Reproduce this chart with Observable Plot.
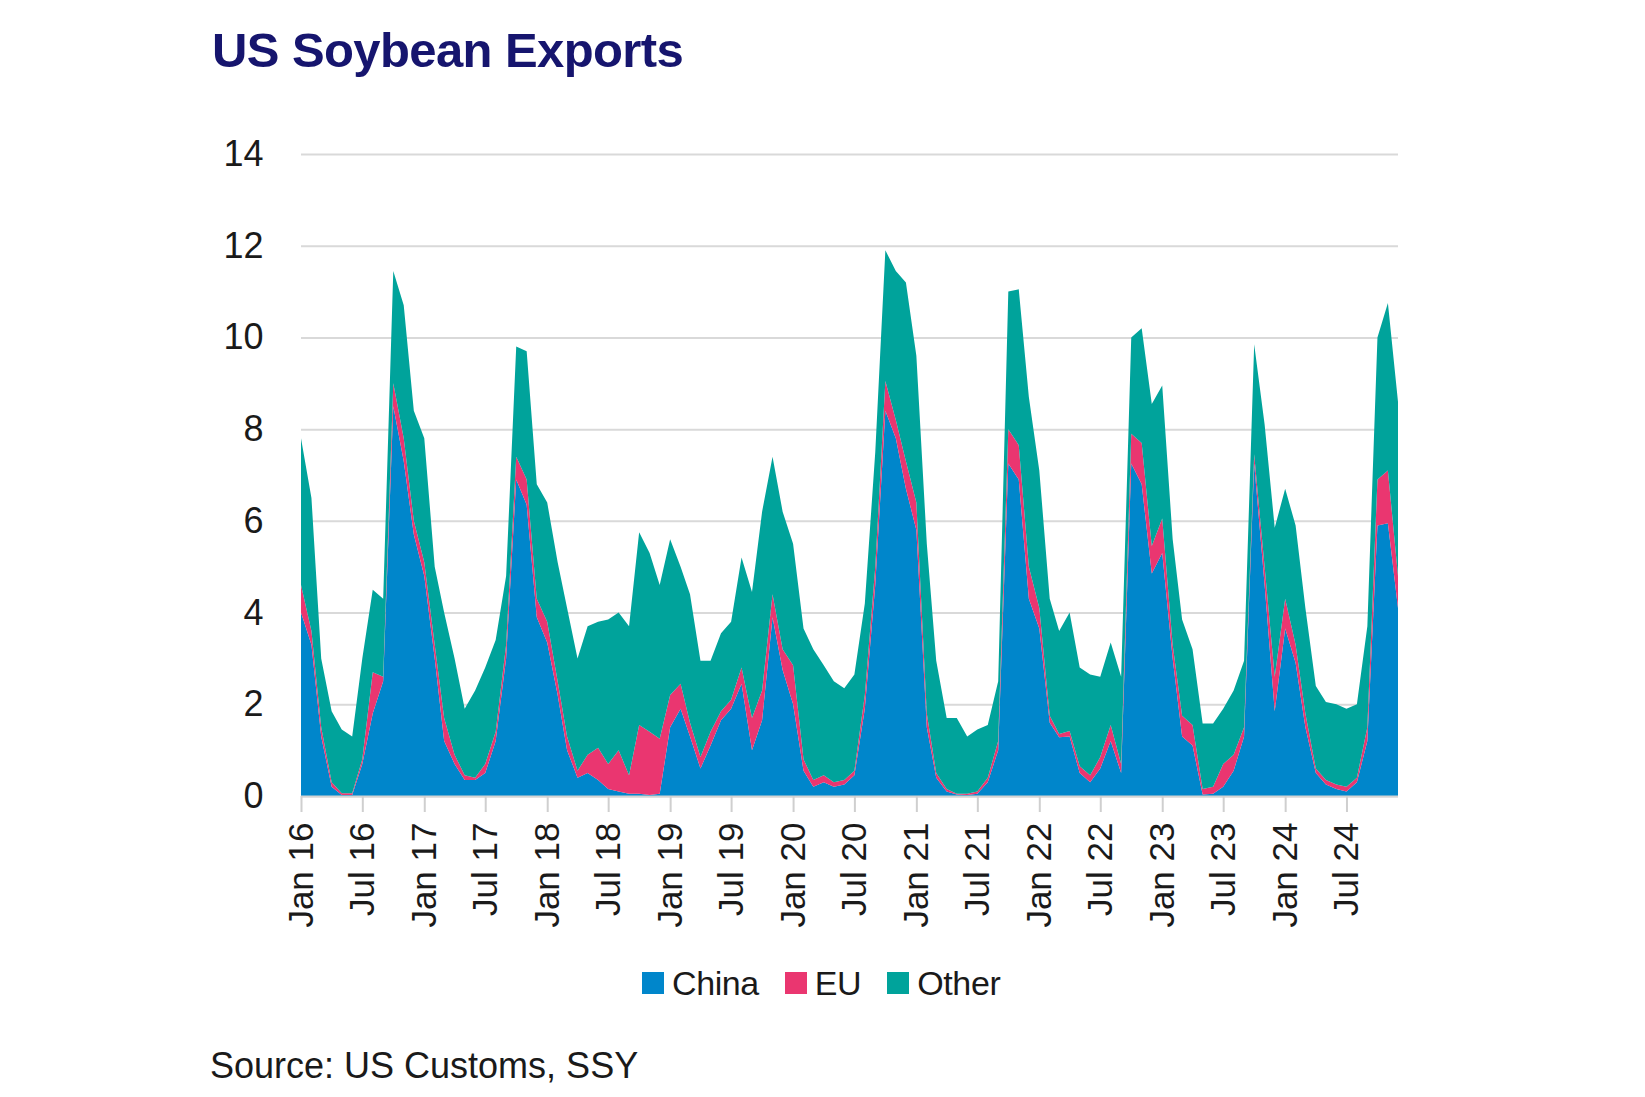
<!DOCTYPE html>
<html>
<head>
<meta charset="utf-8">
<script src="https://cdn.jsdelivr.net/npm/d3@7"></script>
<script src="https://cdn.jsdelivr.net/npm/@observablehq/plot@0.6"></script>
<style>
  html, body { margin: 0; padding: 0; background: #ffffff; width: 1645px; height: 1097px; overflow: hidden; }
  body { position: relative; font-family: "Liberation Sans", Arial, sans-serif; }
  #title { position: absolute; left: 212px; top: 26px; font-size: 49px; font-weight: bold; line-height: 1; letter-spacing: -0.6px; color: #16156e; white-space: nowrap; }
  #chart { position: absolute; left: 0; top: 110px; }
  #legend { position: absolute; left: 642px; top: 966px; height: 34px; display: flex; align-items: center; font-size: 34px; line-height: 34px; color: #1a1a1a; white-space: nowrap; letter-spacing: -0.4px; }
  #legend .item { display: flex; align-items: center; margin-right: 26px; }
  #legend .sw { width: 22px; height: 22px; margin-right: 8px; display: inline-block; }
  #source { position: absolute; left: 210px; top: 1048px; font-size: 36px; line-height: 1; color: #1a1a1a; white-space: nowrap; }
</style>
</head>
<body>
<div id="title">US Soybean Exports</div>
<div id="chart"></div>
<div id="legend"></div>
<div id="source">Source: US Customs, SSY</div>
<script>
// ---- data (million tonnes, monthly Jan 2016 – Dec 2024) ----
const series = ["China", "EU", "Other"];
const colors = ["#0086cb", "#ea3670", "#00a39b"];

const china = [
  4.0, 3.3, 1.3, 0.2, 0.02, 0.02, 0.7, 1.8, 2.5, 8.5, 7.3, 5.7,
  4.8, 3.0, 1.2, 0.7, 0.35, 0.35, 0.5, 1.2, 3.0, 6.9, 6.35, 3.9,
  3.35, 2.2, 1.0, 0.4, 0.5, 0.35, 0.15, 0.1, 0.05, 0.05, 0.02, 0.05,
  1.5, 1.9, 1.3, 0.6, 1.1, 1.65, 1.9, 2.45, 1.0, 1.65, 3.9, 2.75,
  2.0, 0.55, 0.2, 0.3, 0.2, 0.25, 0.45, 1.9, 4.6, 8.4, 7.8, 6.7,
  5.8, 1.5, 0.4, 0.1, 0.03, 0.02, 0.05, 0.3, 1.0, 7.25, 6.9, 4.3,
  3.65, 1.6, 1.28, 1.3, 0.5, 0.3, 0.6, 1.2, 0.5, 7.25, 6.8, 4.85,
  5.3, 3.0, 1.3, 1.1, 0.03, 0.05, 0.2, 0.55, 1.3, 7.25, 4.6, 1.85,
  3.65, 2.9, 1.5, 0.5, 0.25, 0.15, 0.1, 0.3, 1.2, 5.9, 5.95, 4.1
];
const eu = [
  0.6, 0.3, 0.2, 0.1, 0.04, 0.04, 0.1, 0.9, 0.1, 0.5, 0.5, 0.3,
  0.3, 0.3, 0.5, 0.2, 0.1, 0.05, 0.2, 0.2, 0.3, 0.5, 0.55, 0.4,
  0.45, 0.3, 0.3, 0.15, 0.4, 0.7, 0.55, 0.9, 0.4, 1.5, 1.38, 1.2,
  0.7, 0.55, 0.3, 0.25, 0.3, 0.2, 0.2, 0.35, 0.7, 0.65, 0.5, 0.45,
  0.85, 0.25, 0.15, 0.15, 0.1, 0.1, 0.1, 0.3, 0.4, 0.65, 0.4, 0.6,
  0.6, 0.3, 0.1, 0.05, 0.02, 0.03, 0.05, 0.1, 0.2, 0.75, 0.75, 0.7,
  0.45, 0.15, 0.07, 0.12, 0.15, 0.15, 0.25, 0.35, 0.2, 0.65, 0.9, 0.6,
  0.75, 0.3, 0.45, 0.45, 0.12, 0.15, 0.5, 0.35, 0.2, 0.2, 0.4, 0.75,
  0.65, 0.4, 0.3, 0.1, 0.1, 0.1, 0.1, 0.1, 0.3, 1.0, 1.15, 0.7
];
const other = [
  3.2, 2.9, 1.5, 1.55, 1.39, 1.24, 2.2, 1.8, 1.7, 2.45, 2.9, 2.4,
  2.7, 1.7, 2.3, 2.1, 1.45, 1.9, 2.1, 2.0, 1.5, 2.4, 2.8, 2.5,
  2.6, 2.6, 2.8, 2.45, 2.8, 2.75, 3.15, 3.0, 3.25, 4.2, 3.9, 3.35,
  3.4, 2.55, 2.8, 2.1, 1.55, 1.7, 1.7, 2.4, 2.75, 3.9, 3.0, 3.0,
  2.65, 2.85, 2.85, 2.4, 2.2, 2.0, 2.1, 2.0, 2.5, 2.85, 3.25, 3.9,
  3.2, 3.7, 2.45, 1.55, 1.65, 1.25, 1.35, 1.15, 1.3, 3.0, 3.4, 3.7,
  3.0, 2.55, 2.25, 2.58, 2.15, 2.2, 1.75, 1.8, 1.9, 2.1, 2.5, 3.1,
  2.9, 2.3, 2.1, 1.65, 1.43, 1.38, 1.2, 1.4, 1.45, 2.4, 3.1, 3.25,
  2.4, 2.6, 2.3, 1.8, 1.7, 1.75, 1.7, 1.6, 2.2, 3.1, 3.65, 3.8
];

const yTicks = [0, 2, 4, 6, 8, 10, 12, 14];
const tickLabels = [
  "Jan 16", "Jul 16", "Jan 17", "Jul 17", "Jan 18", "Jul 18",
  "Jan 19", "Jul 19", "Jan 20", "Jul 20", "Jan 21", "Jul 21",
  "Jan 22", "Jul 22", "Jan 23", "Jul 23", "Jan 24", "Jul 24"
];

// ---- build table ----
const months = d3.utcMonth.range(new Date(Date.UTC(2016, 0, 1)), new Date(Date.UTC(2025, 0, 1)));
const values = {China: china, EU: eu, Other: other};
const table = [];
months.forEach((m, i) => {
  series.forEach(s => table.push({date: m, series: s, value: values[s][i]}));
});
const xTicks = months.filter((m, i) => i % 6 === 0);
const labelOf = new Map(xTicks.map((d, i) => [+d, tickLabels[i]]));

const chart = Plot.plot({
  width: 1645,
  height: 830,
  marginLeft: 301,
  marginRight: 247,
  marginTop: 44,
  marginBottom: 144,
  style: {fontFamily: "'Liberation Sans', Arial, sans-serif", background: "#ffffff", overflow: "visible", color: "#1a1a1a"},
  x: {type: "utc", domain: [months[0], months[months.length - 1]]},
  y: {domain: [0, 14]},
  color: {domain: series, range: colors},
  marks: [
    Plot.gridY(yTicks, {stroke: "#d9d9d9", strokeOpacity: 1, strokeWidth: 2}),
    Plot.areaY(table, {x: "date", y: "value", fill: "series", order: series, curve: "linear"}),
    Plot.ruleY([0], {stroke: "#d4d4d4", strokeWidth: 2}),
    Plot.axisY(yTicks, {tickSize: 0, tickPadding: 38, fontSize: 36, label: null, fill: "#1a1a1a"}),
    Plot.axisX(xTicks, {
      tickSize: 16, tickPadding: 10, tickRotate: -90, fontSize: 35, label: null,
      stroke: "#cfcfcf", strokeWidth: 2, fill: "#1a1a1a",
      tickFormat: d => labelOf.get(+d)
    })
  ]
});
document.getElementById("chart").appendChild(chart);

// ---- legend ----
const legend = document.getElementById("legend");
series.forEach((s, i) => {
  const item = document.createElement("span");
  item.className = "item";
  const sw = document.createElement("span");
  sw.className = "sw";
  sw.style.background = colors[i];
  item.appendChild(sw);
  item.appendChild(document.createTextNode(s));
  legend.appendChild(item);
});
</script>
</body>
</html>
